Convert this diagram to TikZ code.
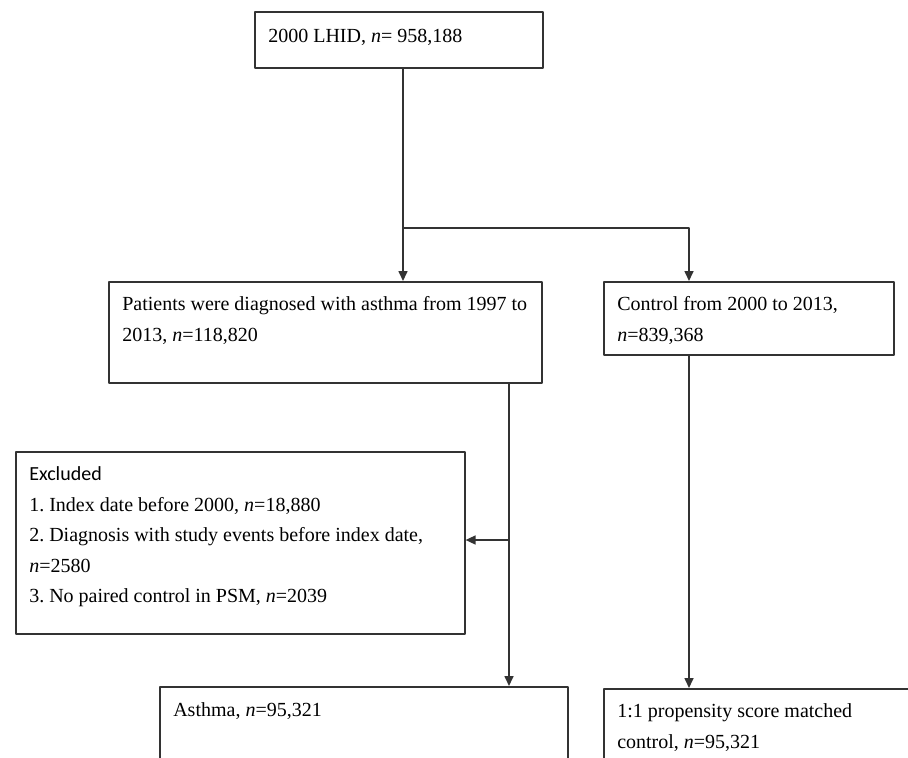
\documentclass[tikz,border=0pt]{standalone}
\usepackage{fontspec}
\setmainfont{Liberation Serif}
\newfontfamily\calibrifont{Carlito}
\usetikzlibrary{arrows.meta}
\frenchspacing
% Chữ trong hộp: canh trái, canh trên
\newcommand{\flowtext}[4][7.5pt]{\parbox[c][#3][t]{#2}{\fontsize{20}{30.5}\selectfont\frenchspacing\raggedright\leftskip=13.5pt\vspace*{#1}\strut #4}}
\begin{document}
\begin{tikzpicture}[x=1pt, y=-1pt, line join=round, >={Triangle[length=10pt,width=9pt]},
  box/.style={draw=black!80, line width=1.6pt, anchor=north west, inner sep=0pt},
  link/.style={draw=black!80, line width=1.6pt}]
% Khung hình
\useasboundingbox (0,0) rectangle (908,758);
\clip (0,0) rectangle (908,758);
% Các hộp
\node[box] (lhid) at (254,11) {\flowtext[9.5pt]{288pt}{56pt}{2000 LHID, \textit{n}= 958,188}};
\node[box] (patients) at (108,281) {\flowtext{433pt}{101pt}{Patients were diagnosed with asthma from 1997 to\\ 2013, \textit{n}=118,820}};
\node[box] (control) at (603,281) {\flowtext{290pt}{73pt}{Control from 2000 to 2013,\\ \textit{n}=839,368}};
\node[box] (excluded) at (15,451) {\flowtext{449pt}{182pt}{{\calibrifont Excluded}\\
  1. Index date before 2000, \textit{n}=18,880\\
  2. Diagnosis with study events before index date,\\
  \textit{n}=2580\\
  3. No paired control in PSM, \textit{n}=2039}};
\node[box] (asthma) at (159,686) {\flowtext[8.5pt]{408pt}{100pt}{Asthma, \textit{n}=95,321}};
\node[box] (matched) at (603,688) {\flowtext{340pt}{100pt}{1:1 propensity score matched\\ control, \textit{n}=95,321}};
% Các điểm rẽ nhánh
\coordinate (split) at (403,228);
\coordinate (ctrlin) at (689,228);
\coordinate (asbranch) at (509,540);
% Các mũi tên
\draw[link] (lhid.south -| split) -- (split);
\draw[link,->] (split) -- (split |- patients.north);
\draw[link,->] (split) -- (ctrlin) -- (ctrlin |- control.north);
\draw[link,->] (asbranch |- patients.south) -- (asbranch |- asthma.north);
\draw[link,->] (asbranch) -- (asbranch -| excluded.east);
\draw[link,->] (ctrlin |- control.south) -- (ctrlin |- matched.north);
\end{tikzpicture}
\end{document}
